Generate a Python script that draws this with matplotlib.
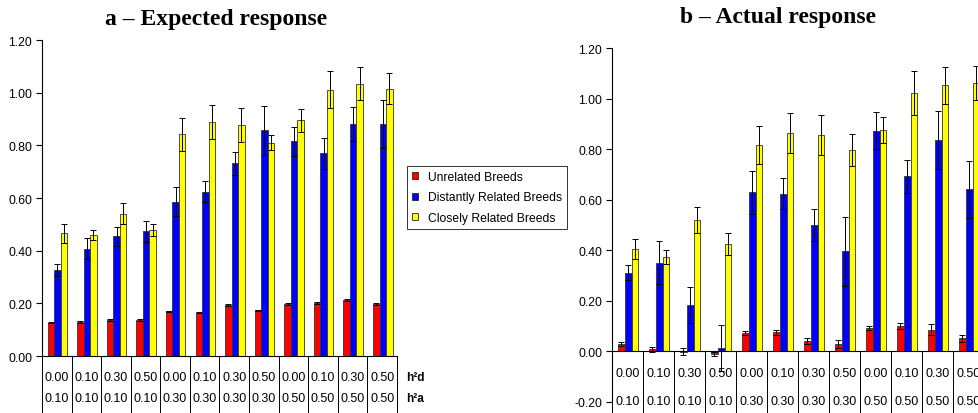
import matplotlib
matplotlib.use("Agg")
import matplotlib.pyplot as plt
from matplotlib.patches import Patch
import numpy as np

plt.rcParams['font.family'] = ['Liberation Sans', 'DejaVu Sans']

h2d = ["0.00", "0.10", "0.30", "0.50"] * 3
h2a = ["0.10"] * 4 + ["0.30"] * 4 + ["0.50"] * 4

# a - expected response
exp_unrel = [0.127, 0.130, 0.137, 0.137, 0.169, 0.165, 0.194, 0.173, 0.197, 0.201, 0.213, 0.197]
exp_unrel_err = [0.003] * 12
exp_dist = [0.327, 0.408, 0.455, 0.474, 0.585, 0.624, 0.732, 0.857, 0.815, 0.770, 0.881, 0.881]
exp_dist_err = [0.023, 0.040, 0.036, 0.040, 0.055, 0.039, 0.044, 0.092, 0.055, 0.059, 0.066, 0.092]
exp_close = [0.467, 0.460, 0.541, 0.479, 0.842, 0.889, 0.877, 0.810, 0.895, 1.011, 1.034, 1.015]
exp_close_err = [0.036, 0.019, 0.040, 0.022, 0.063, 0.064, 0.066, 0.028, 0.044, 0.071, 0.063, 0.058]

# b - actual response
act_unrel = [0.030, 0.009, -0.001, -0.012, 0.073, 0.075, 0.042, 0.030, 0.093, 0.099, 0.086, 0.052]
act_unrel_err = [0.009, 0.010, 0.013, 0.008, 0.008, 0.010, 0.013, 0.017, 0.009, 0.012, 0.021, 0.013]
act_dist = [0.311, 0.350, 0.184, 0.013, 0.629, 0.624, 0.499, 0.396, 0.872, 0.692, 0.835, 0.641]
act_dist_err = [0.029, 0.085, 0.072, 0.090, 0.084, 0.060, 0.064, 0.136, 0.073, 0.065, 0.114, 0.112]
act_close = [0.405, 0.373, 0.519, 0.426, 0.817, 0.864, 0.856, 0.796, 0.876, 1.023, 1.052, 1.061]
act_close_err = [0.041, 0.028, 0.052, 0.043, 0.074, 0.079, 0.081, 0.063, 0.053, 0.088, 0.073, 0.068]

labels = ["Unrelated Breeds", "Distantly Related Breeds", "Closely Related Breeds"]
colors = ["#FF0000", "#0000FF", "#FFFF00"]

W, H = 979, 414
fig = plt.figure(figsize=(W / 100, H / 100), dpi=100)


def panel(rect, series, errs, ylim, ticks, title, title_x, title_y, line_bot, row_y, show_h):
    ax = fig.add_axes([rect[0] / W, 1 - rect[3] / H, (rect[2] - rect[0]) / W, (rect[3] - rect[1]) / H])
    x = np.arange(12)
    w = 0.22
    for i, (vals, err) in enumerate(zip(series, errs)):
        xs = x + (i - 1) * w + 0.02
        ax.bar(xs, vals, w, color=colors[i], edgecolor="#333333", linewidth=0.6, zorder=2)
        ax.errorbar(xs, vals, yerr=err, fmt="none", ecolor="black", elinewidth=0.7,
                    capsize=2.5, capthick=0.7, zorder=3)
    ax.set_xlim(-0.5, 11.5)
    ax.set_ylim(*ylim)
    ax.set_yticks(ticks)
    ax.set_yticklabels(["%.2f" % t for t in ticks], fontsize=8.75)
    ax.tick_params(axis="y", length=4, width=0.8, pad=3)
    ax.set_xticks([])
    for s in ["top", "right"]:
        ax.spines[s].set_visible(False)
    ax.spines["bottom"].set_position(("data", 0))
    ax.spines["left"].set_linewidth(0.8)
    ax.spines["bottom"].set_linewidth(0.8)
    ax.vlines(np.arange(13) - 0.5, line_bot, 0, color="black", linewidth=0.7, clip_on=False)
    for k in range(12):
        ax.text(k, row_y[0], h2d[k], ha="center", va="center", fontsize=9, clip_on=False)
        ax.text(k, row_y[1], h2a[k], ha="center", va="center", fontsize=9, clip_on=False)
    if show_h:
        ax.text(11.82, row_y[0], "h²d", ha="left", va="center", fontsize=8.5, fontweight="bold")
        ax.text(11.82, row_y[1], "h²a", ha="left", va="center", fontsize=8.5, fontweight="bold")
    fig.text(title_x / W, 1 - title_y / H, title, ha="center", va="center",
             fontsize=17, fontweight="bold", family="Liberation Serif")
    return ax


ax1 = panel((42, 41, 397, 357), [exp_unrel, exp_dist, exp_close],
            [exp_unrel_err, exp_dist_err, exp_close_err], (0, 1.2),
            np.arange(0, 1.21, 0.2), "a – Expected response", 216, 19,
            -0.23, (-0.081, -0.161), True)
ax2 = panel((612, 49, 984, 403), [act_unrel, act_dist, act_close],
            [act_unrel_err, act_dist_err, act_close_err], (-0.2, 1.2),
            np.arange(-0.2, 1.21, 0.2), "b – Actual response", 778, 18,
            -0.25, (-0.084, -0.195), False)

handles = [Patch(facecolor=c, edgecolor="#222222", linewidth=0.6) for c in colors]
leg = fig.legend(handles, labels, loc="upper left", bbox_to_anchor=(407 / W, 1 - 167 / H),
                 fontsize=8.75, frameon=True, fancybox=False, edgecolor="black",
                 handlelength=0.5, handleheight=0.5, handletextpad=0.8,
                 borderpad=0.4, labelspacing=0.7, borderaxespad=0)
leg.get_frame().set_linewidth(0.7)

fig.savefig("out.png", dpi=100)
